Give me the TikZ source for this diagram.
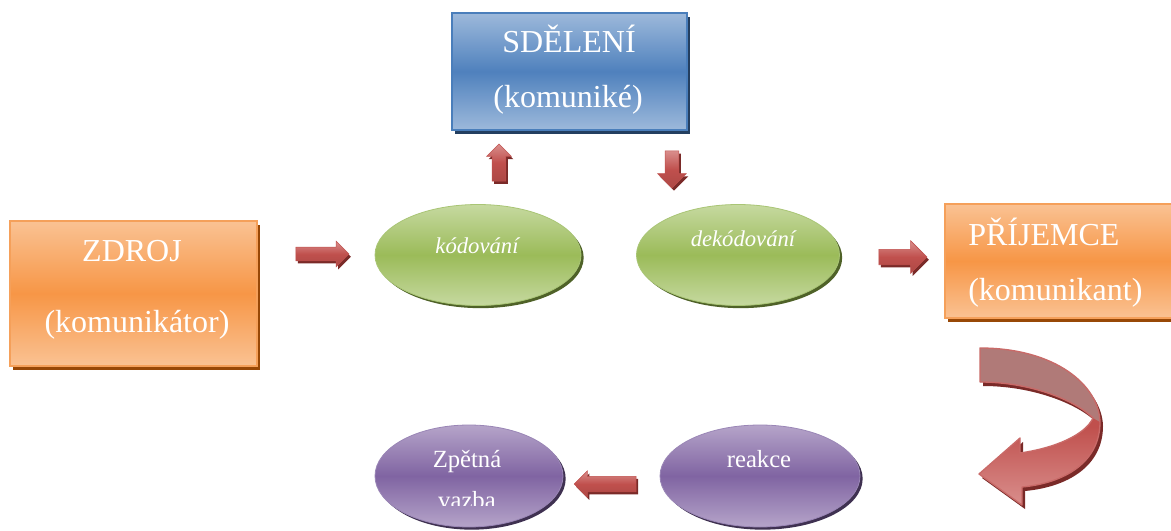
\documentclass[tikz,border=0pt]{standalone}
\usepackage{fontspec}
\setmainfont{Liberation Serif}
\usetikzlibrary{shapes.geometric,shapes.arrows,shadows}
\definecolor{orL}{HTML}{FAC293}
\definecolor{orM}{HTML}{F79646}
\definecolor{orB}{HTML}{F5A05A}
\definecolor{orS}{HTML}{984807}
\definecolor{blL}{HTML}{9DB9DB}
\definecolor{blM}{HTML}{4F81BD}
\definecolor{blB}{HTML}{4A7EBB}
\definecolor{blS}{HTML}{243F60}
\definecolor{grL}{HTML}{C6D9A0}
\definecolor{grM}{HTML}{9BBB59}
\definecolor{grB}{HTML}{A9C575}
\definecolor{grS}{HTML}{4F6228}
\definecolor{puL}{HTML}{B5A4C9}
\definecolor{puM}{HTML}{8064A2}
\definecolor{puB}{HTML}{9A86B6}
\definecolor{puS}{HTML}{3F3151}
\definecolor{arL}{HTML}{D98E8C}
\definecolor{arM}{HTML}{C0504D}
\definecolor{arS}{HTML}{7A2A28}
\definecolor{mauve}{HTML}{B07A78}
\newcommand\curvarrpath{(980,348) .. controls (1055,348) and (1099,385) .. (1100,422) .. controls (1100,462) and (1065,483) .. (1022,487) -- (1022,505) -- (979,474) -- (1020,438) -- (1020,453) .. controls (1055,448) and (1085,435) .. (1093,418) .. controls (1075,400) and (1030,382) .. (980,382) -- cycle}
\begin{document}
\begin{tikzpicture}[x=0.75pt,y=-0.75pt,
  obox/.style={rectangle, draw=orB, line width=1pt, top color=orL, bottom color=orL, middle color=orM,
    drop shadow={shadow xshift=2.5pt, shadow yshift=-3pt, fill=orS, opacity=1}},
  bbox/.style={rectangle, draw=blB, line width=1pt, top color=blL, bottom color=blL, middle color=blM,
    drop shadow={shadow xshift=2.5pt, shadow yshift=-3pt, fill=blS, opacity=1}},
  gell/.style={ellipse, draw=grB, line width=0.6pt, top color=grL, bottom color=grL, middle color=grM,
    drop shadow={shadow xshift=2pt, shadow yshift=-2pt, fill=grS, opacity=1}},
  pell/.style={ellipse, draw=puB, line width=0.6pt, top color=puL, bottom color=puL, middle color=puM,
    drop shadow={shadow xshift=2pt, shadow yshift=-2pt, fill=puS, opacity=1}},
  barrow/.style={single arrow, minimum width=0pt, draw=arM, line width=0.4pt,
    top color=arL, bottom color=arM!90!black, middle color=arM,
    drop shadow={shadow xshift=1.5pt, shadow yshift=-2pt, fill=arS, opacity=1}},
  bigtxt/.style={inner sep=0pt, text=white, font=\fontsize{24}{28}\selectfont},
  smtxt/.style={inner sep=0pt, text=white, font=\fontsize{18.5}{22}\selectfont},
  ittxt/.style={inner sep=0pt, text=white, font=\fontsize{17}{20}\selectfont\itshape}]
\useasboundingbox (0,0) rectangle (1171,531);
\fill[white] (0,0) rectangle (1171,531);

% boxes
\node[obox, minimum width=185.25pt, minimum height=108.75pt] (zdroj) at (133.5,293.5) {};
\node[bbox, minimum width=176.25pt, minimum height=87.75pt] (sdeleni) at (569.5,71.5) {};
\node[obox, minimum width=187.5pt, minimum height=85.5pt] (prijemce) at (1070,261) {};

\node[bigtxt, anchor=base] (t1) at (132,262) {ZDROJ};
\node[bigtxt, anchor=base] (t2) at (137,332) {(komunikátor)};
\node[bigtxt, anchor=base] (t3) at (569,53) {SDĚLENÍ};
\node[bigtxt, anchor=base] (t4) at (568,108) {(komuniké)};
\node[bigtxt, anchor=base west] (t5) at (968,245) {PŘÍJEMCE};
\node[bigtxt, anchor=base west] (t6) at (968,300) {(komunikant)};

% ellipses
\node[gell, minimum width=154.5pt, minimum height=75.75pt] (kod) at (478,255) {};
\node[gell, minimum width=152.25pt, minimum height=75.75pt] (dekod) at (738,255) {};
\node[pell, minimum width=141pt, minimum height=76.5pt] (zpet) at (469,476) {};
\node[pell, minimum width=150pt, minimum height=76.5pt] (reak) at (760,476) {};

\node[ittxt, anchor=base] (t7) at (477,253) {kódování};
\node[ittxt, anchor=base] (t8) at (743,247) {dekódování};
\node[smtxt, anchor=base] (t9) at (467,467) {Zpětná};
\begin{scope}
\clip (380,480) rectangle (560,505);
\node[smtxt, anchor=base] (t10) at (467,508) {vazba};
\end{scope}
\node[smtxt, anchor=base] (t11) at (759,467) {reakce};

% block arrows
\node[barrow, inner xsep=0pt, inner ysep=4.9pt, minimum height=39.75pt, single arrow head extend=4.5pt] (a1) at (319,254) {};
\node[barrow, inner ysep=0pt, inner xsep=4.9pt, minimum height=27.75pt, single arrow head extend=4.1pt, shape border rotate=90] (a2) at (499,166) {};
\node[barrow, inner ysep=0pt, inner xsep=4.9pt, minimum height=27.75pt, single arrow head extend=5.6pt, shape border rotate=270] (a3) at (672,166) {};
\node[barrow, inner xsep=0pt, inner ysep=5.6pt, minimum height=36pt, single arrow head extend=6.4pt] (a4) at (899,257) {};
\node[barrow, inner xsep=0pt, inner ysep=5.6pt, minimum height=46.5pt, single arrow head extend=4.1pt, shape border rotate=180] (a5) at (609,484) {};

% curved arrow
\begin{scope}[shift={(3,4)}]
\fill[arS] \curvarrpath;
\end{scope}
\shade[top color=arM, bottom color=arL, middle color=arM] \curvarrpath;
\fill[mauve] (980,348) .. controls (1055,348) and (1099,385) .. (1100,422) -- (1093,418) .. controls (1075,400) and (1030,382) .. (980,382) -- cycle;
\draw[arM!85!white, line width=1pt, line join=round] \curvarrpath;
\end{tikzpicture}
\end{document}
